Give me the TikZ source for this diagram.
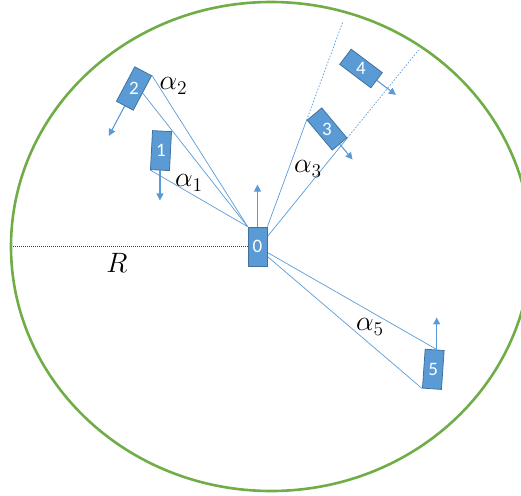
\documentclass[tikz,border=0pt]{standalone}
\usepackage{fontspec}
\setmainfont{Carlito}
\usetikzlibrary{calc,arrows.meta,backgrounds}
\definecolor{boxblue}{HTML}{5B9BD5}
\definecolor{boxedge}{HTML}{41719C}
\definecolor{ringgreen}{HTML}{70AD47}
\begin{document}
\begin{tikzpicture}[x=1pt,y=-1pt,
  car/.style={draw=boxedge, fill=boxblue, line width=0.8pt, minimum width=19pt, minimum height=39pt, inner sep=0pt},
  num/.style={text=white, inner sep=0pt, font=\fontsize{19}{19}\selectfont},
  ray/.style={draw=boxblue, line width=0.7pt},
  ext/.style={draw=boxblue, line width=0.7pt, dash pattern=on 1.6pt off 1.6pt},
  mv/.style={draw=boxblue, line width=1.1pt, -{Triangle[width=7pt,length=7pt]}},
  lab/.style={inner sep=0pt, scale=1.35, font=\fontsize{20}{20}\selectfont}]
\useasboundingbox (0,0) rectangle (521,495);
\clip (0,0) rectangle (521,495);
\draw[ringgreen, line width=2.6pt] (271,246.5) ellipse [x radius=260pt, y radius=244.5pt];
\coordinate (rl) at (11,246.5);
% cars
\node[car] (n0) at (257.5,246.5) {};
\node[car, rotate=-3] (n1) at (161,150.6) {};
\node[car, rotate=-28] (n2) at (134,88.5) {};
\node[car, rotate=40] (n3) at (327,129) {};
\node[car, rotate=53] (n4) at (361,68.5) {};
\node[car, rotate=-4] (n5) at (433.3,369.3) {};
\node[num] (t0) at (n0) {0};
\node[num] (t1) at (n1) {1};
\node[num] (t2) at (n2) {2};
\node[num] (t3) at (n3) {3};
\node[num] (t4) at (n4) {4};
\node[num] (t5) at (n5) {5};
% connection points on car 0
\coordinate (a3) at ($(n0.north east)!0.25!(n0.south east)$);
\coordinate (a5u) at ($(n0.north east)!0.65!(n0.south east)$);
\coordinate (a5l) at ($(n0.north east)!0.75!(n0.south east)$);
\coordinate (p5) at ($(n5.north)+(2,0)$);
\coordinate (e3l) at ($(n0.north east)!1.93!(n3.north west)$);
\coordinate (e3r) at ($(a3)!1.89!(n3.south east)$);
\begin{pgfonlayer}{background}
\draw[ray] (n0.north west) -- (n1.south west);
\draw[ray] (n0.north west) -- (n2.north east);
\draw[ray] (n0.north west) -- (n2.east);
\draw[ray] (n0.north east) -- (n3.north west);
\draw[ray] (a3) -- (n3.south east);
\draw[ext] (n3.north west) -- (e3l);
\draw[ext] (n3.south east) -- (e3r);
\draw[ray] (a5u) -- (p5);
\draw[ray] (a5l) -- (n5.south west);
\draw[black!75, line width=0.8pt, dash pattern=on 1pt off 1pt] (rl) -- (n0.west);
\end{pgfonlayer}
% motion arrows
\draw[mv] (n0.north) -- ++(0,-42);
\draw[mv] (n1.south) -- ++(0,30);
\draw[mv] (n2.south) -- ($(n2.south)!-0.85!(n2.north)$);
\draw[mv] (n3.south) -- ($(n3.south)!-0.5!(n3.north)$);
\draw[mv] (n4.south) -- ($(n4.south)!-0.6!(n4.north)$);
\draw[mv] (p5) -- ++(0,-32);
% labels
\node[lab] (l1) at (189,183) {$\alpha_1$};
\node[lab] (l2) at (173.5,86) {$\alpha_2$};
\node[lab] (l3) at (308,169) {$\alpha_3$};
\node[lab] (l5) at (370,327) {$\alpha_5$};
\node[lab] (lr) at (117,263) {$R$};
\end{tikzpicture}
\end{document}
